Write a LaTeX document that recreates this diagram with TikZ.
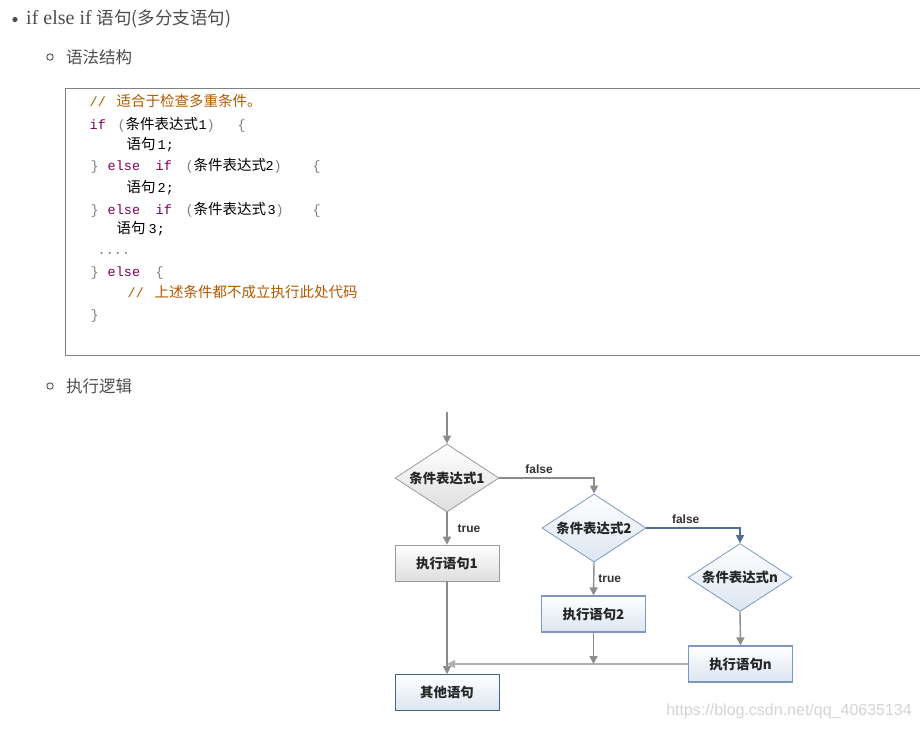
\documentclass[tikz,border=0pt]{standalone}
\usepackage{fontspec}
\setmainfont{Liberation Serif}
\setmonofont{Liberation Mono}
\newfontfamily\cjk{Noto Sans CJK SC}
\newfontfamily\sansf{Liberation Sans}
\usetikzlibrary{shapes.geometric,arrows.meta}
\definecolor{txt}{HTML}{4D4D4D}
\definecolor{cmt}{HTML}{B05A00}
\definecolor{kw}{HTML}{7F0055}
\definecolor{punc}{HTML}{808080}
\definecolor{arrowc}{HTML}{8C8C8C}
\definecolor{bluebd}{HTML}{7D98BC}
\definecolor{bluefill}{HTML}{DCE5F1}
\definecolor{darkblue}{HTML}{41648F}
\definecolor{bluearrow}{HTML}{4F6E96}
\definecolor{graybd}{HTML}{9A9A9A}
\definecolor{grayfill}{HTML}{DEDEDE}
\definecolor{wm}{HTML}{D4D4D4}
\newcommand\seg[2]{\makebox[0pt][l]{\hspace*{#1pt}#2}}
\newcommand\kwd[1]{\textcolor{kw}{#1}}
\newcommand\pun[1]{\textcolor{punc}{#1}}
\newcommand\cmtt[1]{\textcolor{cmt}{#1}}
\newcommand\zh[1]{{\cjk\fontsize{14.5}{16}\selectfont #1}}
\tikzset{
  codeline/.style={anchor=west, inner sep=0pt, text height=10pt, text depth=3pt,
    font=\ttfamily\fontsize{13.5}{16}\selectfont, text=black},
  head/.style={anchor=west, inner sep=0pt, text=txt},
  flowtext/.style={font=\cjk\bfseries\fontsize{13.4}{15}\selectfont, text=black!85},
  graydia/.style={diamond, aspect=1.53, minimum width=104pt, minimum height=68pt, inner sep=0pt,
    draw=graybd, line width=0.8pt, top color=white, bottom color=grayfill, flowtext},
  bluedia/.style={graydia, draw=bluebd, bottom color=bluefill},
  graybox/.style={rectangle, minimum width=104pt, minimum height=36pt, inner sep=0pt,
    draw=graybd, line width=0.8pt, top color=white, bottom color=grayfill, flowtext},
  bluebox/.style={graybox, draw=bluebd, line width=1.2pt, bottom color=bluefill},
  darkbox/.style={graybox, draw=darkblue, bottom color=bluefill},
  arr/.style={draw=arrowc, line width=1.4pt, -{Triangle[length=8pt,width=8pt]}},
  lbl/.style={font=\sansf\bfseries\fontsize{12}{14}\selectfont, text=black!80, inner sep=1pt}
}
\begin{document}
\begin{tikzpicture}[x=1pt,y=-1pt]
\useasboundingbox (0,0) rectangle (920,729);
\fill[white] (0,0) rectangle (920,729);

% headings
\fill[txt] (15,19.5) circle (2.6pt);
\node[head] (h1) at (26,19) {\fontsize{20}{22}\selectfont if else if {\cjk\fontsize{17.5}{20}\selectfont 语句(多分支语句)}};
\draw[txt, line width=0.9pt] (50,57) circle (3.2pt);
\node[head] (h2) at (66,57) {\cjk\fontsize{16.5}{20}\selectfont 语法结构};
\draw[txt, line width=0.9pt] (50,386) circle (3.2pt);
\node[head] (h3) at (66,386) {\cjk\fontsize{16.5}{20}\selectfont 执行逻辑};

% code box
\draw[punc, line width=1pt] (921,88) -- (65,88) -- (65,355) -- (921,355);

\node[codeline] (l1) at (89,103) {\seg{0}{\cmtt{//}}\seg{27}{\cmtt{\zh{适合于检查多重条件。}}}};
\node[codeline] (l2) at (89,126) {\seg{0}{\kwd{if}}\seg{28}{\pun{(}}\seg{36}{\zh{条件表达式}}\seg{109}{1}\seg{117}{\pun{)}}\seg{148}{\pun{\{}}};
\node[codeline] (l3) at (89,146) {\seg{37}{\zh{语句}}\seg{68}{1;}};
\node[codeline] (l4) at (89,167) {\seg{1}{\pun{\}}}\seg{18}{\kwd{else}}\seg{66}{\kwd{if}}\seg{96}{\pun{(}}\seg{104}{\zh{条件表达式}}\seg{176}{2}\seg{184}{\pun{)}}\seg{223}{\pun{\{}}};
\node[codeline] (l5) at (89,189) {\seg{37}{\zh{语句}}\seg{68}{2;}};
\node[codeline] (l6) at (89,211) {\seg{1}{\pun{\}}}\seg{18}{\kwd{else}}\seg{66}{\kwd{if}}\seg{96}{\pun{(}}\seg{104}{\zh{条件表达式}}\seg{178}{3}\seg{186}{\pun{)}}\seg{223}{\pun{\{}}};
\node[codeline] (l7) at (89,230) {\seg{27}{\zh{语句}}\seg{59}{3;}};
\node[codeline] (l8) at (89,251) {\seg{8}{\pun{....}}};
\node[codeline] (l9) at (89,273) {\seg{1}{\pun{\}}}\seg{18}{\kwd{else}}\seg{66}{\pun{\{}}};
\node[codeline] (l10) at (89,294) {\seg{38}{\cmtt{//}}\seg{65}{\cmtt{\zh{上述条件都不成立执行此处代码}}}};
\node[codeline] (l11) at (89,316) {\seg{1}{\pun{\}}}};

% flowchart
\coordinate (start) at (447,412);
\node[graydia] (d1) at (447,478) {条件表达式1};
\node[graybox] (b1) at (447,563) {执行语句1};
\node[bluedia] (d2) at (594,528) {条件表达式2};
\node[bluebox] (b2) at (593.5,614) {执行语句2};
\node[bluedia] (dn) at (740,577.5) {条件表达式n};
\node[bluebox] (bn) at (740.5,664) {执行语句n};
\node[darkbox] (other) at (447,692.5) {其他语句};

\draw[arr] (start) -- (d1.north);
\draw[arr] (d1.east) -| (d2.north) node[lbl, pos=0.21, above=3pt] {false};
\draw[arr] (d1.south) -- (b1.north) node[lbl, midway, right=9pt] {true};
\draw[arr, draw=bluearrow] (d2.east) -| (dn.north) node[lbl, pos=0.21, above=3pt] {false};
\draw[arr] (d2.south) -- (b2.north) node[lbl, midway, right=3pt] {true};
\draw[arr] (dn.south) -- (bn.north);
\draw[arr, draw=arrowc!70] (bn.west) -- (b1.south |- bn.west);
\draw[arr] (b2.south) -- (b2.south |- bn.west);
\draw[arr] (b1.south) -- (other.north);

\node[font=\sansf\fontsize{16}{18}\selectfont, text=wm, anchor=east, inner sep=0pt] (wmk) at (912,711) {https://blog.csdn.net/qq\_40635134};
\end{tikzpicture}
\end{document}
